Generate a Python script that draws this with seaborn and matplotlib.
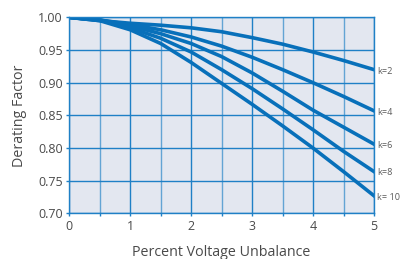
import numpy as np
import pandas as pd
import seaborn as sns
import matplotlib.pyplot as plt
from matplotlib.ticker import MultipleLocator

# percent voltage unbalance
unbalance = [0, 0.5, 1, 1.5, 2, 2.5, 3, 3.5, 4, 4.5, 5]

# derating factor
k2 = [1.000, 0.995, 0.991, 0.988, 0.984, 0.978, 0.969, 0.959, 0.947, 0.934, 0.920]
k4 = [1.000, 0.996, 0.989, 0.981, 0.970, 0.956, 0.939, 0.920, 0.900, 0.879, 0.857]
k6 = [1.000, 0.996, 0.987, 0.975, 0.960, 0.940, 0.915, 0.887, 0.858, 0.832, 0.806]
k8 = [1.000, 0.996, 0.984, 0.968, 0.947, 0.920, 0.891, 0.860, 0.828, 0.795, 0.764]
k10 = [1.000, 0.995, 0.981, 0.960, 0.931, 0.899, 0.867, 0.834, 0.800, 0.764, 0.727]

curve_names = ["k=2", "k=4", "k=6", "k=8", "k= 10"]
curves = [k2, k4, k6, k8, k10]

rows = []
for name, vals in zip(curve_names, curves):
    for x, y in zip(unbalance, vals):
        rows.append({"unbalance": x, "factor": y, "k": name})
df = pd.DataFrame(rows)

blue = "#0870ba"
grid_blue = "#1f80c6"
text_grey = "#4a4a4a"

plt.rcParams["font.family"] = ["Open Sans", "DejaVu Sans"]

fig = plt.figure(figsize=(4, 2.59), dpi=100)
ax = fig.add_axes([0.173, 0.176, 0.762, 0.757])
ax.set_facecolor("#e3e7f0")

sns.lineplot(data=df, x="unbalance", y="factor", hue="k", palette=[blue] * 5,
             linewidth=2.6, legend=False, ax=ax)

ax.set_xlim(0, 5)
ax.set_ylim(0.70, 1.00)
ax.xaxis.set_major_locator(MultipleLocator(1))
ax.xaxis.set_minor_locator(MultipleLocator(0.5))
ax.yaxis.set_major_locator(MultipleLocator(0.05))
ax.yaxis.set_major_formatter(lambda v, p: f"{v:.2f}")

ax.grid(which="major", color=grid_blue, linewidth=1.0)
ax.grid(which="minor", axis="x", color=grid_blue, linewidth=1.0, alpha=0.65)
ax.set_axisbelow(True)

for s in ax.spines.values():
    s.set_color(grid_blue)
    s.set_linewidth(1.0)

ax.tick_params(which="both", length=2.5, width=1, color=grid_blue,
               labelsize=9, labelcolor=text_grey, pad=2)

ax.set_xlabel("Percent Voltage Unbalance", fontsize=10.3, color=text_grey, labelpad=9)
ax.set_ylabel("Derating Factor", fontsize=10.3, color=text_grey, labelpad=8)

for name, vals in zip(curve_names, curves):
    ax.annotate(name, xy=(unbalance[-1], vals[-1]), xytext=(2, -1),
                textcoords="offset points", fontsize=6.6, color="#5a5a5a",
                va="center", ha="left", annotation_clip=False)

fig.savefig("out.png", dpi=100)
